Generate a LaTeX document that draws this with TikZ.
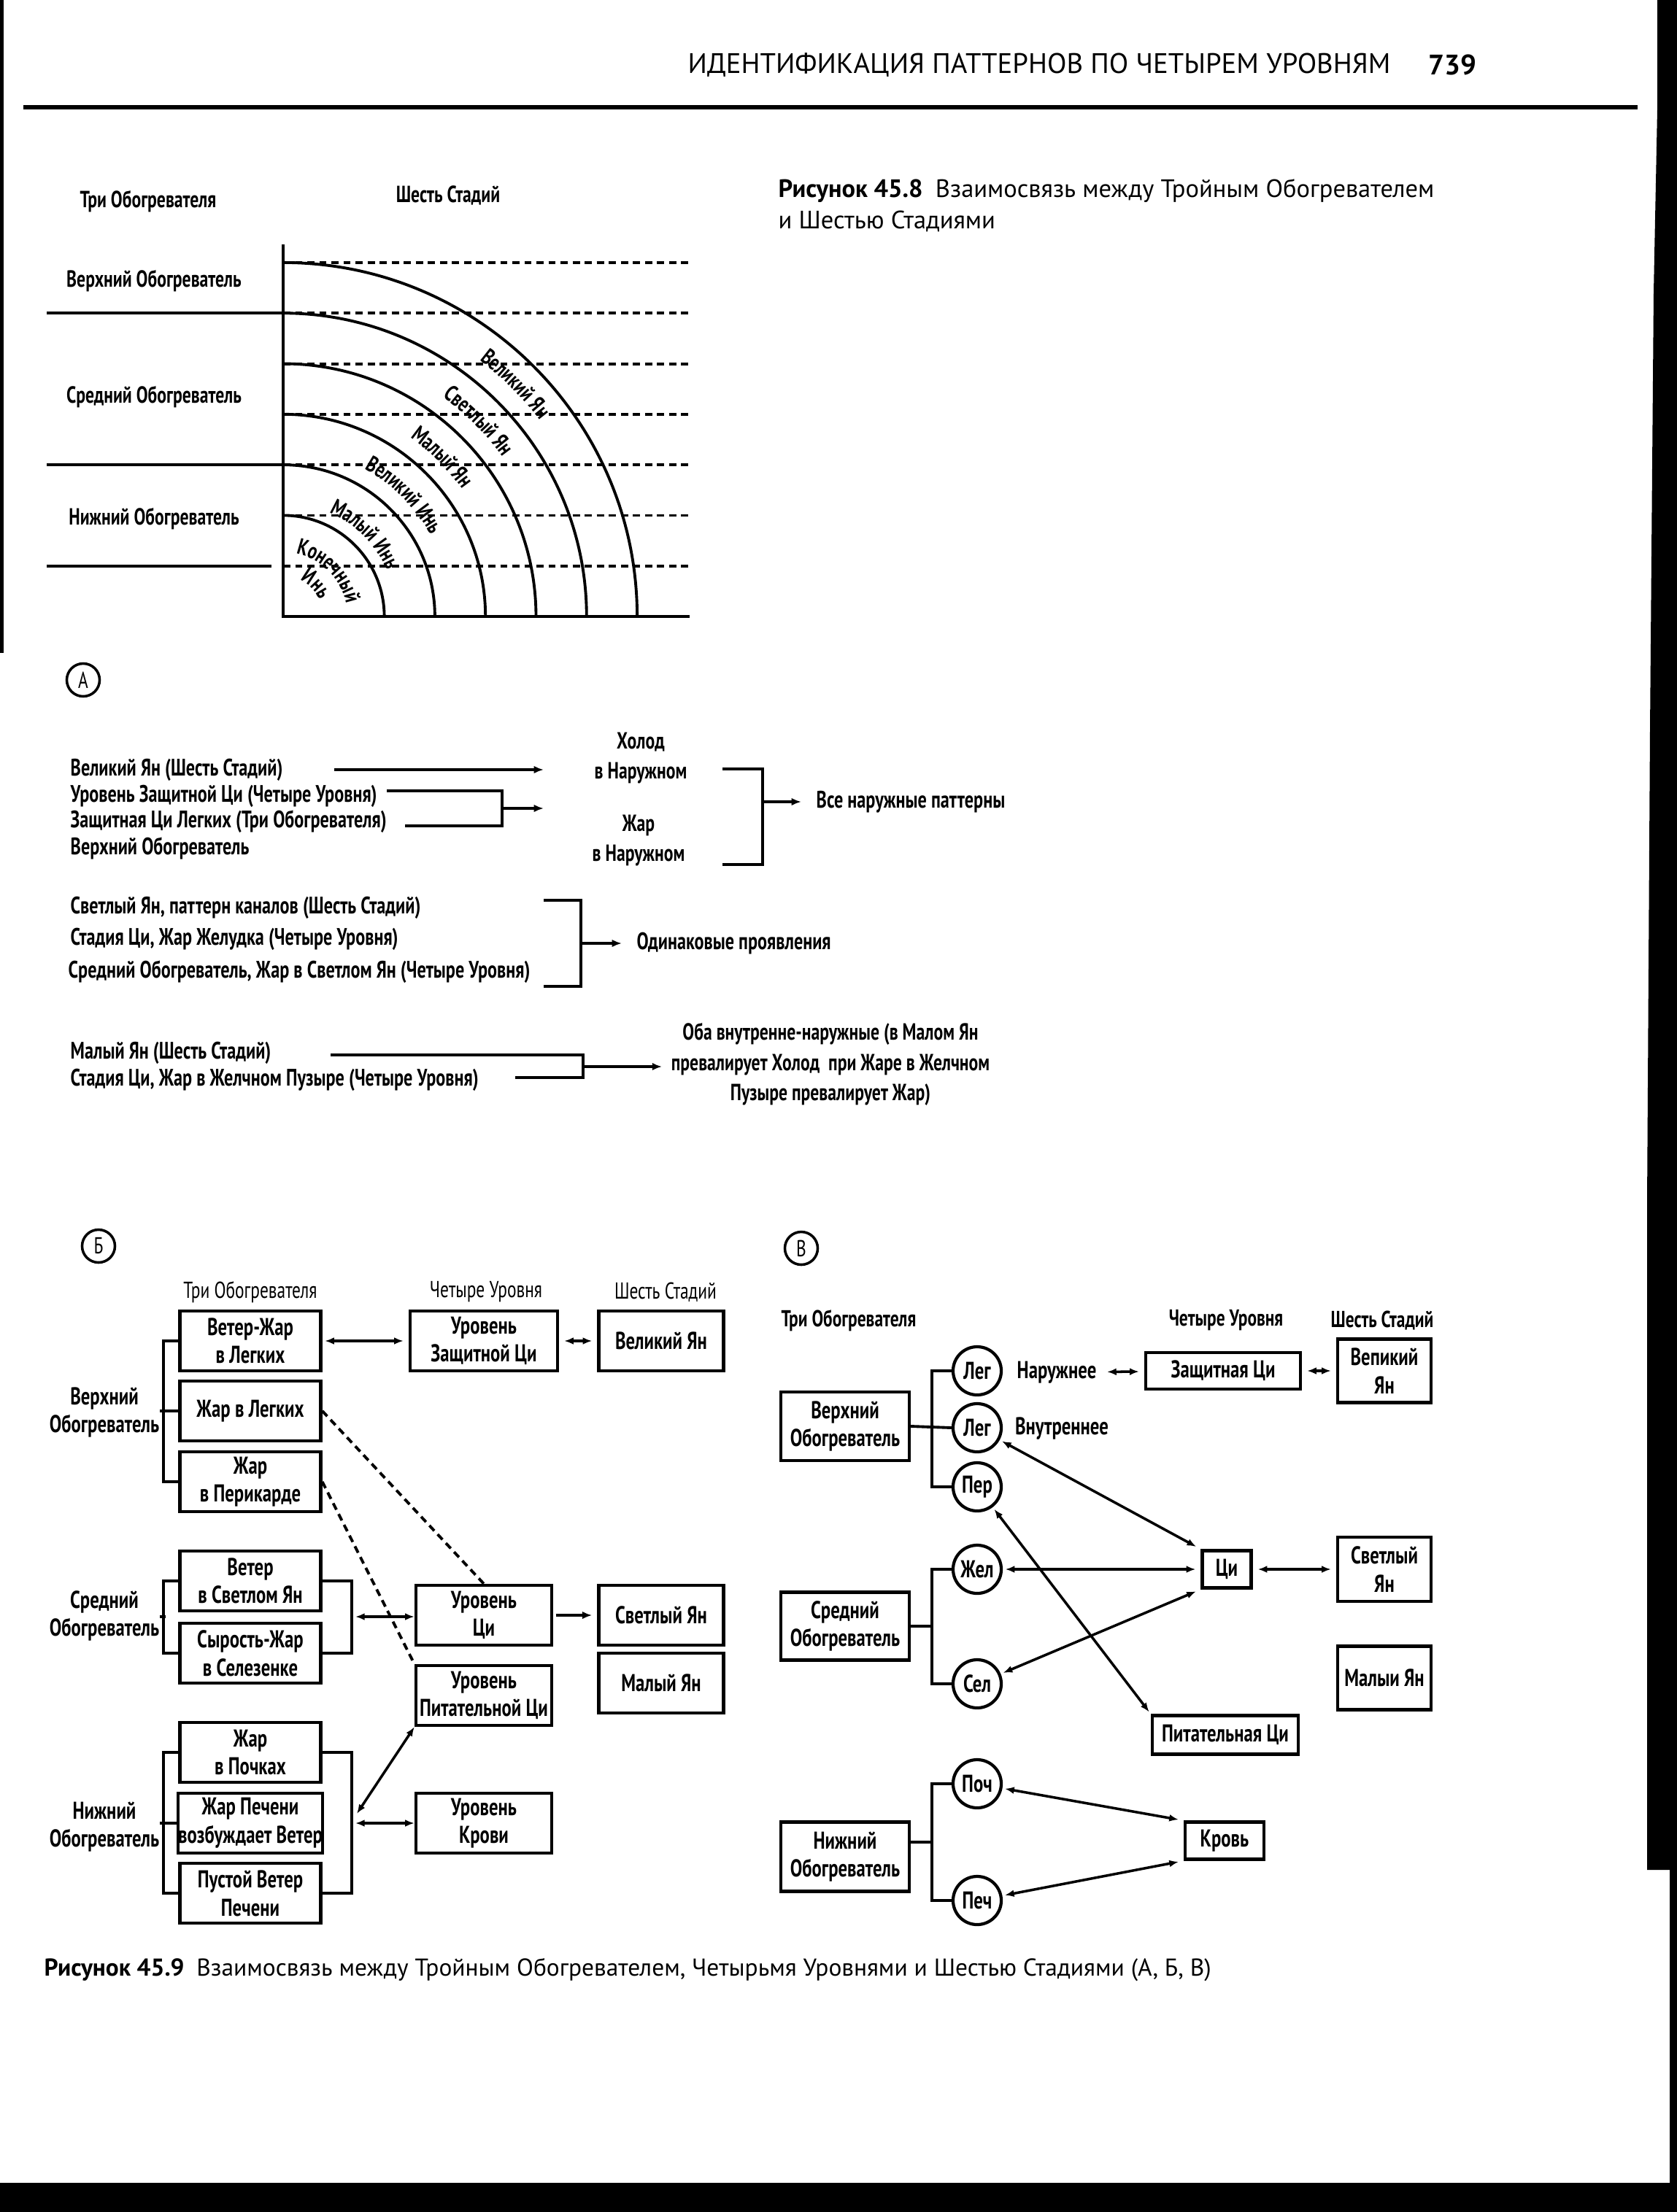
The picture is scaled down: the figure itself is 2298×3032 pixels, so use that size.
\documentclass[tikz,border=0pt]{standalone}
\usepackage{fontspec}
\setmainfont{PT Sans}
\newfontfamily\cnd[FakeStretch=0.74]{PT Sans}
\usetikzlibrary{arrows.meta,positioning,decorations.text}

\newcommand\arcf{\cnd\bfseries\fontsize{8.8}{9}\selectfont}
% label written along a quarter circle round the corner of figure 45.8
\newcommand\arctext[2]{\path[decorate, decoration={text along path, text align=center, text={|\arcf|#2}}]
  (388,{845-#1}) .. controls ({388+0.5523*#1},{845-#1}) and ({388+#1},{845-0.5523*#1}) .. ({388+#1},845);}

\tikzset{
  every node/.style={inner sep=0pt},
  tx/.style={font=\cnd\bfseries\fontsize{9.3}{10}\selectfont, anchor=west},
  ct/.style={font=\cnd\bfseries\fontsize{9.1}{11.7}\selectfont, align=center},
  hd/.style={font=\cnd\fontsize{9}{11}\selectfont},
  hdb/.style={font=\cnd\bfseries\fontsize{9}{11}\selectfont},
  lb/.style={font=\cnd\bfseries\fontsize{9.5}{10.8}\selectfont, align=center},
  bx/.style={draw, line width=1.2pt, align=center, font=\cnd\bfseries\fontsize{9.5}{11}\selectfont},
  crc/.style={draw, circle, line width=1.2pt, minimum size=0.66cm, font=\cnd\bfseries\fontsize{9.5}{11}\selectfont},
  lettr/.style={draw, circle, line width=1pt, minimum size=0.45cm, font=\cnd\fontsize{9}{10}\selectfont},
  lin/.style={line width=1.1pt},
  dsh/.style={line width=1.1pt, dash pattern=on 2.8pt off 1.9pt},
  arr/.style={line width=1.1pt, -{Latex[length=3.8pt,width=3pt]}},
  darr/.style={line width=1pt, {Latex[length=3.6pt,width=2.8pt]}-{Latex[length=3.6pt,width=2.8pt]}},
  capt/.style={font=\fontsize{9.5}{12}\selectfont},
}

\begin{document}
\begin{tikzpicture}[x=0.01cm, y=-0.01cm]
\useasboundingbox (0,0) rectangle (2298,3032);

% edges of the scanned page
\fill (0,0) rectangle (5,895);
\fill (2271,0) -- (2298,0) -- (2298,2563) -- (2257,2563) -- (2257,1650) -- (2261,1000) -- (2266,400) -- (2271,150) -- cycle;
\fill (2288,2563) rectangle (2298,2995);
\fill (0,2992) rectangle (2298,3032);

% running head
\node[font=\fontsize{11}{13}\selectfont, anchor=west] (runhead) at (942,89) {ИДЕНТИФИКАЦИЯ ПАТТЕРНОВ ПО ЧЕТЫРЕМ УРОВНЯМ};
\node[font=\bfseries\fontsize{11}{13}\selectfont, anchor=west] (folio) at (1957,89) {739};
\draw[line width=1.7pt] (32,147) -- (2244,147);

% Figure 45.8
\foreach \i in {0,...,6}
  \draw[dsh] (388,{360+69.3*\i}) -- (945,{360+69.3*\i});
\foreach \r in {2,...,7}
  \draw[lin] (388,{845-69.3*\r}) .. controls ({388+38.27*\r},{845-69.3*\r}) and ({388+69.3*\r},{845-38.27*\r}) .. ({388+69.3*\r},845);
\draw[line width=1.4pt] (388,335) -- (388,845) -- (945,845);
\draw[lin] (64,429.3) -- (388,429.3);
\draw[lin] (64,637.2) -- (388,637.2);
\draw[lin] (64,775.8) -- (372,775.8);

\node[ct] (threeA) at (203,276) {Три Обогревателя};
\node[ct] (sixA) at (614,268) {Шесть Стадий};
\node[ct] (upA) at (211,385) {Верхний Обогреватель};
\node[ct] (midA) at (211,544) {Средний Обогреватель};
\node[ct] (lowA) at (211,711) {Нижний Обогреватель};

\arctext{443}{Великий Ян}
\arctext{372}{Светлый Ян}
\arctext{301}{Малый Ян}
\arctext{231}{Великий Инь}
\arctext{156}{Малый Инь}
\arctext{88}{Конечный}
\arctext{55}{Инь}

\node[lettr] (tagA) at (114,932) {А};

% part A: text scheme
\node[tx] (vyA) at (96,1055) {Великий Ян (Шесть Стадий)};
\node[tx] (wqA) at (96,1091) {Уровень Защитной Ци (Четыре Уровня)};
\node[tx] (lqA) at (96,1126) {Защитная Ци Легких (Три Обогревателя)};
\node[tx] (ubA) at (96,1163) {Верхний Обогреватель};
\node[ct] (coldA) at (878,1039) {Холод\\в Наружном};
\node[ct] (heatA) at (875,1152) {Жар\\в Наружном};
\node[tx] (allA) at (1118,1099) {Все наружные паттерны};

\coordinate (s1) at (458,1055);
\coordinate (e1) at (745,1055);
\draw[arr] (s1) -- (e1);
\coordinate (k1) at (688,1108);
\coordinate (e2) at (745,1108);
\draw[lin] (530,1084) -| (k1) |- (555,1132);
\draw[arr] (k1) -- (e2);
\coordinate (k2) at (1045,1099);
\draw[lin] (990,1054) -| (k2) |- (990,1185);
\draw[arr, shorten >=0.2cm] (k2) -- (allA.west);

\node[tx] (syB) at (96,1244) {Светлый Ян, паттерн каналов (Шесть Стадий)};
\node[tx] (stB) at (96,1287) {Стадия Ци, Жар Желудка (Четыре Уровня)};
\node[tx] (sbB) at (93,1332) {Средний Обогреватель, Жар в Светлом Ян (Четыре Уровня)};
\node[tx] (sameA) at (872,1293) {Одинаковые проявления};
\coordinate (k3) at (796,1293);
\draw[lin] (745,1234) -| (k3) |- (745,1352);
\draw[arr, shorten >=0.2cm] (k3) -- (sameA.west);

\node[tx] (myC) at (96,1443) {Малый Ян (Шесть Стадий)};
\node[tx] (gbC) at (96,1480) {Стадия Ци, Жар в Желчном Пузыре (Четыре Уровня)};
\node[ct] (bothA) at (1138,1459) {Оба внутренне-наружные (в Малом Ян\\превалирует Холод\ \ при Жаре в Желчном\\Пузыре превалирует Жар)};
\coordinate (k4) at (799,1462);
\draw[lin] (453,1446) -| (k4) |- (706,1477);
\draw[arr, shorten >=0.12cm] (k4) -- (bothA.west |- k4);

% part B
\node[lettr] (tagB) at (135,1708) {Б};
\node[hd] (hB1) at (343,1771) {Три Обогревателя};
\node[hd] (hB2) at (666,1771) {Четыре Уровня};
\node[hd] (hB3) at (912,1771) {Шесть Стадий};

\node[bx, minimum width=1.93cm, minimum height=0.82cm] (b1) at (343,1838) {Ветер-Жар\\в Легких};
\node[bx, minimum width=1.93cm, minimum height=0.82cm] (b2) at (343,1934) {Жар в Легких};
\node[bx, minimum width=1.93cm, minimum height=0.82cm] (b3) at (343,2031) {Жар\\в Перикарде};
\node[bx, minimum width=1.93cm, minimum height=0.82cm] (b4) at (343,2167) {Ветер\\в Светлом Ян};
\node[bx, minimum width=1.93cm, minimum height=0.82cm] (b5) at (343,2266) {Сырость-Жар\\в Селезенке};
\node[bx, minimum width=1.93cm, minimum height=0.82cm] (b6) at (343,2402) {Жар\\в Почках};
\node[bx, minimum width=1.93cm, minimum height=0.82cm] (b7) at (343,2499) {Жар Печени\\возбуждает Ветер};
\node[bx, minimum width=1.93cm, minimum height=0.82cm] (b8) at (343,2595) {Пустой Ветер\\Печени};

\node[bx, minimum width=2.02cm, minimum height=0.82cm] (m1) at (663,1838) {Уровень\\Защитной Ци};
\node[bx, minimum width=1.86cm, minimum height=0.82cm] (m2) at (663,2214) {Уровень\\Ци};
\node[bx, minimum width=1.86cm, minimum height=0.82cm] (m3) at (663,2324) {Уровень\\Питательной Ци};
\node[bx, minimum width=1.86cm, minimum height=0.82cm] (m4) at (663,2499) {Уровень\\Крови};

\node[bx, minimum width=1.71cm, minimum height=0.82cm] (r1) at (906,1838) {Великий Ян};
\node[bx, minimum width=1.71cm, minimum height=0.82cm] (r2) at (906,2214) {Светлый Ян};
\node[bx, minimum width=1.71cm, minimum height=0.82cm] (r3) at (906,2307) {Малый Ян};

\node[lb] (upB) at (143,1936) {Верхний\\Обогреватель};
\node[lb] (midB) at (143,2215) {Средний\\Обогреватель};
\node[lb] (lowB) at (143,2504) {Нижний\\Обогреватель};

\draw[lin] (b1.west) -- +(-20,0) |- (b3.west);
\draw[lin] (upB.east |- b2.west) -- (b2.west);
\draw[lin] (b4.west) -- +(-20,0) |- (b5.west);
\coordinate (g2l) at (227,2216);
\draw[lin] (midB.east |- g2l) -- (g2l);
\draw[lin] (b6.west) -- +(-20,0) |- (b8.west);
\draw[lin] (lowB.east |- b7.west) -- (b7.west);

\draw[lin] (b4.east) -- +(40,0) |- (b5.east);
\coordinate (g2) at (487,2216);
\draw[darr] (g2) -- (m2.west |- g2);
\draw[lin] (b6.east) -- +(40,0) |- (b8.east);
\coordinate (g3a) at (489,2486);
\coordinate (g3b) at (487,2499);
\draw[darr] (g3a) -- (m3.south west);
\draw[darr] (g3b) -- (m4.west);

\draw[darr, shorten <=1pt, shorten >=2pt] (b1) -- (m1);
\draw[darr, shorten <=2pt, shorten >=2pt] (m1) -- (r1);
\draw[arr, shorten <=1pt, shorten >=2pt] (m2) -- (r2);
\draw[dsh] (b2.east) -- (m2.north);
\draw[dsh] (b3.east) -- (m3.north west);

% part V
\node[lettr] (tagV) at (1098,1711) {В};
\node[hdb, anchor=west] (hV1) at (1070,1810) {Три Обогревателя};
\node[hdb] (hV2) at (1680,1810) {Четыре Уровня};
\node[hdb] (hV3) at (1894,1810) {Шесть Стадий};

\node[bx, minimum width=1.76cm, minimum height=0.94cm] (vB) at (1158,1955) {Верхний\\Обогреватель};
\node[bx, minimum width=1.76cm, minimum height=0.93cm] (sB) at (1158,2229) {Средний\\Обогреватель};
\node[bx, minimum width=1.76cm, minimum height=0.95cm] (nB) at (1158,2545) {Нижний\\Обогреватель};

\node[crc] (leg1) at (1339,1879) {Лег};
\node[crc] (leg2) at (1339,1957) {Лег};
\node[crc] (per) at (1339,2038) {Пер};
\node[crc] (zhel) at (1339,2151) {Жел};
\node[crc] (sel) at (1339,2308) {Сел};
\node[crc] (poch) at (1339,2445) {Поч};
\node[crc] (pech) at (1339,2605) {Печ};

\node[lb] (outV) at (1448,1881) {Наружнее};
\node[lb] (inV) at (1455,1958) {Внутреннее};

\node[bx, minimum width=2.12cm, minimum height=0.5cm] (zq) at (1676,1879) {Защитная Ци};
\node[bx, minimum width=1.28cm, minimum height=0.87cm] (vy) at (1897,1879) {Вепикий\\Ян};
\node[bx, minimum width=0.67cm, minimum height=0.51cm] (qi) at (1681,2151) {Ци};
\node[bx, minimum width=1.28cm, minimum height=0.88cm] (sy) at (1897,2151) {Светлый\\Ян};
\node[bx, minimum width=1.28cm, minimum height=0.87cm] (my) at (1897,2300) {Малыи Ян};
\node[bx, minimum width=2cm, minimum height=0.53cm] (pq) at (1679,2378) {Питательная Ци};
\node[bx, minimum width=1.08cm, minimum height=0.51cm] (kr) at (1678,2523) {Кровь};

\draw[lin] (leg1.west) -- +(-27,0) |- (per.west);
\draw[lin] (vB.east) -- (leg2.west);
\draw[lin] (zhel.west) -- +(-27,0) |- (sel.west);
\coordinate (g5) at (1279,2229);
\draw[lin] (sB.east |- g5) -- (g5);
\draw[lin] (poch.west) -- +(-27,0) |- (pech.west);
\coordinate (g6) at (1279,2525);
\draw[lin] (nB.east |- g6) -- (g6);

\draw[darr, shorten <=4pt, shorten >=2pt] (outV) -- (zq);
\draw[darr, shorten <=2pt, shorten >=2pt] (zq) -- (vy);
\draw[darr, shorten <=1pt, shorten >=2pt] (leg2) -- (qi.north west);
\draw[darr, shorten <=1pt, shorten >=1pt] (per) -- (pq.north west);
\draw[darr, shorten <=1pt, shorten >=2pt] (zhel) -- (qi);
\draw[darr, shorten <=1pt, shorten >=2pt] (sel) -- (qi.south west);
\draw[darr, shorten <=2pt, shorten >=2pt] (qi) -- (sy);
\draw[darr, shorten <=1pt, shorten >=2pt] (poch) -- (kr.north west);
\draw[darr, shorten <=1pt, shorten >=2pt] (pech) -- (kr.south west);

% captions
\node[capt, font=\fontsize{9.8}{12.3}\selectfont, anchor=north west, align=left] (cap8) at (1066,245) {\textbf{Рисунок 45.8}\enspace Взаимосвязь между Тройным Обогревателем\\и Шестью Стадиями};
\node[capt, anchor=west] (cap9) at (60,2700) {\textbf{Рисунок 45.9}\enspace Взаимосвязь между Тройным Обогревателем, Четырьмя Уровнями и Шестью Стадиями (А, Б, В)};
\end{tikzpicture}
\end{document}
